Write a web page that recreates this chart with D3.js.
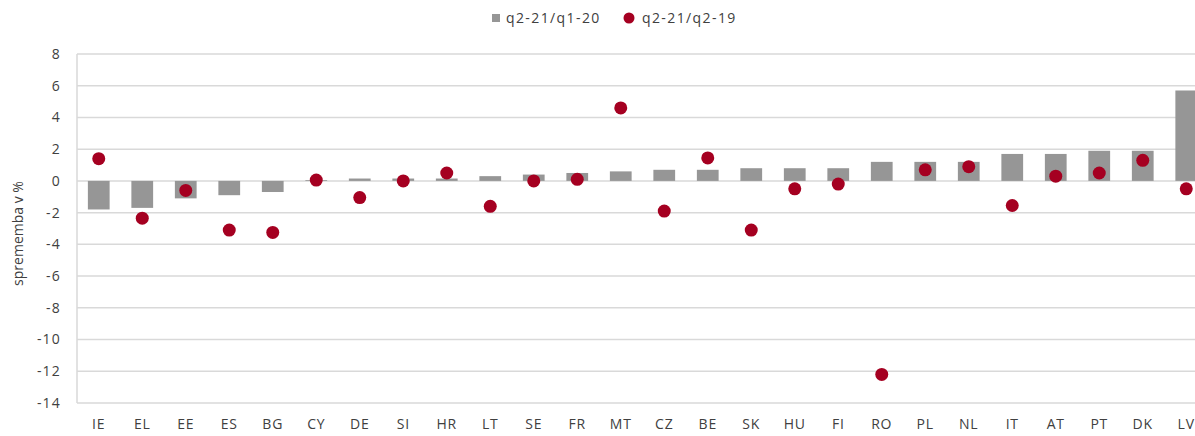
<!DOCTYPE html>
<meta charset="utf-8">
<style>
body { margin: 0; background: #fff; }
text { font-family: "Open Sans", "DejaVu Sans", sans-serif; fill: #404040; }
.grid line { stroke: #d9d9d9; stroke-width: 1.5px; }
.bar { fill: #969696; }
.dot { fill: #a50021; }
</style>
<svg width="1195" height="436"></svg>
<script src="https://cdn.jsdelivr.net/npm/d3@7"></script>
<script>
// countries, sorted by q2-21/q1-20
var countries = ["IE","EL","EE","ES","BG","CY","DE","SI","HR","LT","SE","FR","MT","CZ","BE","SK","HU","FI","RO","PL","NL","IT","AT","PT","DK","LV"];
var barVals = [-1.8,-1.7,-1.1,-0.9,-0.7,0.05,0.15,0.15,0.15,0.3,0.4,0.5,0.6,0.7,0.7,0.8,0.8,0.8,1.2,1.2,1.2,1.7,1.7,1.9,1.9,5.7];
var dotVals = [1.4,-2.35,-0.6,-3.1,-3.25,0.05,-1.05,0.0,0.5,-1.6,0.0,0.1,4.6,-1.9,1.45,-3.1,-0.5,-0.2,-12.2,0.7,0.9,-1.55,0.3,0.5,1.3,-0.5];
var yTicks = [8,6,4,2,0,-2,-4,-6,-8,-10,-12,-14];
var legendNames = ["q2-21/q1-20","q2-21/q2-19"];

var svg = d3.select("svg"),
    margin = {top: 54, left: 77},
    plotW = 1131, plotH = 349;

var g = svg.append("g").attr("transform", "translate(" + margin.left + "," + margin.top + ")");

var x = d3.scaleBand().domain(countries).range([0, plotW]).paddingInner(0.5).paddingOuter(0.25);
var y = d3.scaleLinear().domain([-14, 8]).range([plotH, 0]);

// gridlines
g.append("g").attr("class", "grid")
  .selectAll("line").data(yTicks).enter().append("line")
    .attr("x1", 0).attr("x2", plotW)
    .attr("y1", function(d) { return y(d); })
    .attr("y2", function(d) { return y(d); });

// left axis line
g.append("line")
    .attr("x1", 0).attr("x2", 0).attr("y1", 0).attr("y2", plotH)
    .attr("stroke", "#d9d9d9").attr("stroke-width", 1.5);

// y tick labels
g.selectAll(".ytick").data(yTicks).enter().append("text")
    .attr("class", "ytick")
    .attr("x", -16)
    .attr("y", function(d) { return y(d); })
    .attr("dy", "0.35em")
    .attr("text-anchor", "end")
    .style("font-size", "14px")
    .style("letter-spacing", "1.2px")
    .text(function(d) { return d < 0 ? "-" + Math.abs(d) : d; });

// x labels
g.selectAll(".xlab").data(countries).enter().append("text")
    .attr("class", "xlab")
    .attr("x", function(d) { return x(d) + x.bandwidth() / 2; })
    .attr("y", plotH + 26)
    .attr("text-anchor", "middle")
    .style("font-size", "14px")
    .style("letter-spacing", "0.8px")
    .text(function(d) { return d; });

// bars
g.selectAll(".bar").data(barVals).enter().append("rect")
    .attr("class", "bar")
    .attr("x", function(d, i) { return x(countries[i]); })
    .attr("width", x.bandwidth())
    .attr("y", function(d) { return y(Math.max(0, d)); })
    .attr("height", function(d) { return Math.abs(y(d) - y(0)); });

// dots
g.selectAll(".dot").data(dotVals).enter().append("circle")
    .attr("class", "dot")
    .attr("cx", function(d, i) { return x(countries[i]) + x.bandwidth() / 2; })
    .attr("cy", function(d) { return y(d); })
    .attr("r", 6.5);

// y title
svg.append("text")
    .attr("transform", "translate(23," + (margin.top + plotH / 2 + 5) + ") rotate(-90)")
    .attr("text-anchor", "middle")
    .style("font-size", "14px")
    .text("sprememba v %");

// legend
var legend = svg.append("g");
legend.append("rect")
    .attr("x", 492).attr("y", 14).attr("width", 8).attr("height", 8)
    .attr("fill", "#969696");
legend.append("text")
    .attr("x", 506).attr("y", 18).attr("dy", "0.35em")
    .style("font-size", "14px")
    .style("letter-spacing", "1.4px")
    .text(legendNames[0]);
legend.append("circle")
    .attr("cx", 629).attr("cy", 18).attr("r", 5.5)
    .attr("fill", "#a50021");
legend.append("text")
    .attr("x", 642).attr("y", 18).attr("dy", "0.35em")
    .style("font-size", "14px")
    .style("letter-spacing", "1.4px")
    .text(legendNames[1]);
</script>
